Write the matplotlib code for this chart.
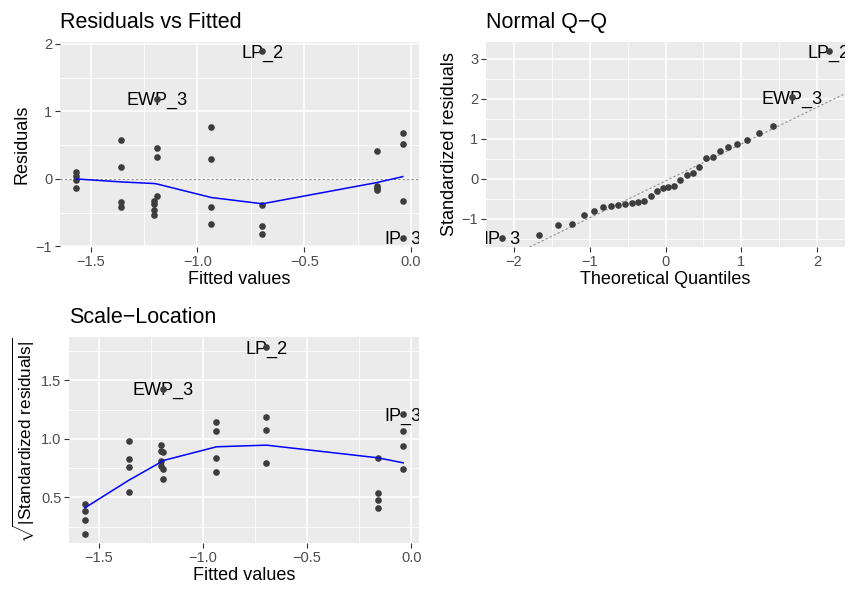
import numpy as np
import matplotlib
matplotlib.use('Agg')
import matplotlib.pyplot as plt

plt.rcParams['font.family'] = ['Liberation Sans', 'DejaVu Sans']
plt.rcParams['mathtext.fontset'] = 'custom'
plt.rcParams['mathtext.rm'] = 'Liberation Sans'
plt.rcParams['mathtext.it'] = 'Liberation Sans:italic'
plt.rcParams['mathtext.bf'] = 'Liberation Sans:bold'

# one value per observation (32 obs, 8 groups of 4)
fitted = [-1.567, -1.567, -1.567, -1.567,
          -1.357, -1.357, -1.357, -1.357,
          -1.203, -1.203, -1.203, -1.203,
          -1.190, -1.190, -1.190, -1.190,
          -0.935, -0.935, -0.935, -0.935,
          -0.696, -0.696, -0.696, -0.696,
          -0.161, -0.161, -0.161, -0.161,
          -0.039, -0.039, -0.039, -0.039]
residuals = [0.098, 0.044, -0.015, -0.128,
             0.574, 0.18, -0.34, -0.42,
             -0.33, -0.37, -0.456, -0.53,
             1.19, 0.46, 0.32, -0.26,
             0.77, 0.30, -0.42, -0.67,
             1.89, -0.39, -0.69, -0.82,
             0.41, -0.10, -0.135, -0.17,
             0.68, 0.51, -0.33, -0.87]
std_resid = [0.144, 0.096, -0.036, -0.20,
             0.97, 0.30, -0.58, -0.687,
             -0.593, -0.654, -0.80, -0.904,
             2.04, 0.79, 0.545, -0.433,
             1.318, 0.516, -0.702, -1.134,
             3.19, -0.63, -1.15, -1.40,
             0.695, -0.17, -0.23, -0.29,
             1.147, 0.878, -0.553, -1.47]

# labelled observations
label_names = ['LP_2', 'EWP_3', 'IP_3']
label_index = [20, 12, 31]

# smoother lines
smooth_x = [-1.567, -1.357, -1.203, -1.190, -0.935, -0.696, -0.161, -0.039]
resid_smooth = [0.0, -0.044, -0.068, -0.074, -0.275, -0.368, -0.054, 0.034]
scale_smooth = [0.41, 0.645, 0.80, 0.815, 0.932, 0.946, 0.838, 0.795]

# normal quantiles for 32 points
qq_theoretical = [-2.154, -1.676, -1.418, -1.230, -1.078, -0.947, -0.831, -0.725,
                  -0.626, -0.533, -0.445, -0.360, -0.278, -0.197, -0.118, -0.039,
                  0.039, 0.118, 0.197, 0.278, 0.360, 0.445, 0.533, 0.626,
                  0.725, 0.831, 0.947, 1.078, 1.230, 1.418, 1.676, 2.154]
qq_line_intercept = -0.05
qq_line_slope = 0.92

fitted = np.array(fitted)
residuals = np.array(residuals)
std_resid = np.array(std_resid)
sqrt_std = np.sqrt(np.abs(std_resid))
order = np.argsort(std_resid)
qq_sample = std_resid[order]

point_col = '#3D3D3D'
ref_col = '#8C8C8C'
W, H = 849, 590


def panel(fig, left, top, right, bottom):
    ax = fig.add_axes([left / W, 1 - bottom / H, (right - left) / W, (bottom - top) / H])
    ax.set_facecolor('#EBEBEB')
    for s in ax.spines.values():
        s.set_visible(False)
    ax.grid(which='major', color='white', linewidth=1.1)
    ax.grid(which='minor', color='white', linewidth=0.55)
    ax.set_axisbelow(True)
    ax.tick_params(which='major', direction='out', length=3.5, width=0.8,
                   color='#333333', labelsize=10.5, labelcolor='#4D4D4D', pad=2)
    ax.tick_params(which='minor', length=0)
    return ax


def add_labels(ax, xs, ys):
    for name, x, y in zip(label_names, xs, ys):
        t = ax.text(x, y, name, fontsize=13, ha='center', va='center_baseline',
                    color='black', clip_on=True, zorder=2)
        t.set_clip_box(ax.bbox)


fig = plt.figure(figsize=(W / 100, H / 100), dpi=100)

# Residuals vs Fitted
ax1 = panel(fig, 60, 42, 419, 247)
ax1.axhline(0, color=ref_col, linestyle=(0, (2, 2)), linewidth=0.8, zorder=1)
ax1.scatter(fitted, residuals, s=23, color=point_col, linewidths=0, zorder=3)
ax1.plot(smooth_x, resid_smooth, color='#0000FF', linewidth=1.1, zorder=4)
add_labels(ax1, fitted[label_index], residuals[label_index])
ax1.set_xlim(-1.643, 0.037)
ax1.set_ylim(-1.008, 2.028)
ax1.set_xticks([-1.5, -1.0, -0.5, 0.0], ['\u22121.5', '\u22121.0', '\u22120.5', '0.0'])
ax1.set_xticks([-1.25, -0.75, -0.25], minor=True)
ax1.set_yticks([-1, 0, 1, 2], ['\u22121', '0', '1', '2'])
ax1.set_yticks([-0.5, 0.5, 1.5], minor=True)
ax1.set_title('Residuals vs Fitted', loc='left', fontsize=15.5, pad=10)
ax1.set_xlabel('Fitted values', fontsize=13, labelpad=2)
ax1.set_ylabel('Residuals', fontsize=13, labelpad=4)

# Normal Q-Q
ax2 = panel(fig, 486, 42, 845, 247)
ax2.axline((0, qq_line_intercept), slope=qq_line_slope, color=ref_col,
           linestyle=(0, (2, 2)), linewidth=0.8, zorder=1)
ax2.scatter(qq_theoretical, qq_sample, s=23, color=point_col, linewidths=0, zorder=3)
rank = np.argsort(order)
qq_x = np.array(qq_theoretical)
add_labels(ax2, qq_x[rank[label_index]], std_resid[label_index])
ax2.set_xlim(-2.369, 2.369)
ax2.set_ylim(-1.70, 3.42)
ax2.set_xticks([-2, -1, 0, 1, 2], ['\u22122', '\u22121', '0', '1', '2'])
ax2.set_xticks([-1.5, -0.5, 0.5, 1.5], minor=True)
ax2.set_yticks([-1, 0, 1, 2, 3], ['\u22121', '0', '1', '2', '3'])
ax2.set_yticks([-1.5, -0.5, 0.5, 1.5, 2.5], minor=True)
ax2.set_title('Normal Q\u2212Q', loc='left', fontsize=15.5, pad=10)
ax2.set_xlabel('Theoretical Quantiles', fontsize=13, labelpad=2)
ax2.set_ylabel('Standardized residuals', fontsize=13, labelpad=3)

# Scale-Location
ax3 = panel(fig, 69, 337, 419, 543)
ax3.scatter(fitted, sqrt_std, s=23, color=point_col, linewidths=0, zorder=3)
ax3.plot(smooth_x, scale_smooth, color='#0000FF', linewidth=1.1, zorder=4)
add_labels(ax3, fitted[label_index], sqrt_std[label_index])
ax3.set_xlim(-1.643, 0.037)
ax3.set_ylim(0.11, 1.87)
ax3.set_xticks([-1.5, -1.0, -0.5, 0.0], ['\u22121.5', '\u22121.0', '\u22120.5', '0.0'])
ax3.set_xticks([-1.25, -0.75, -0.25], minor=True)
ax3.set_yticks([0.5, 1.0, 1.5], ['0.5', '1.0', '1.5'])
ax3.set_yticks([0.25, 0.75, 1.25, 1.75], minor=True)
ax3.set_title('Scale\u2212Location', loc='left', fontsize=15.5, pad=10)
ax3.set_xlabel('Fitted values', fontsize=13, labelpad=2)
ax3.set_ylabel(r'$\sqrt{|\mathrm{Standardized\ residuals}|}$', fontsize=12.3, labelpad=3)

fig.savefig('out.png', dpi=100, facecolor='white')
